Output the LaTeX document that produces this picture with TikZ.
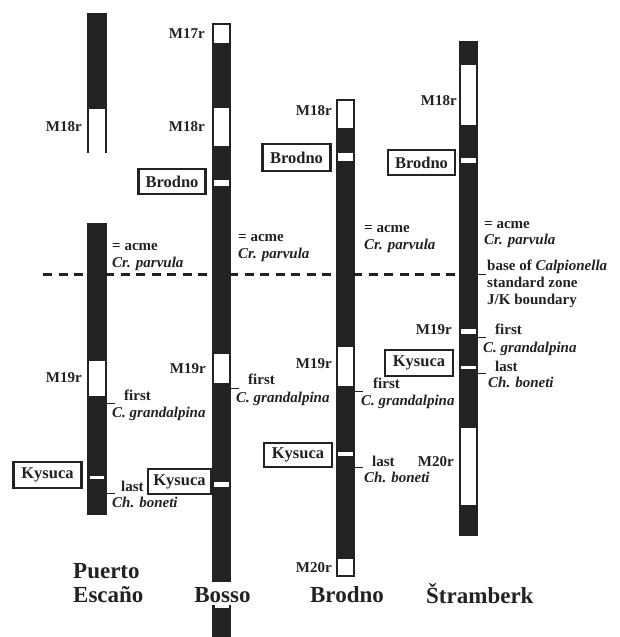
\documentclass[tikz,border=0pt]{standalone}
\usepackage{fontspec}
\setmainfont{Liberation Serif}
\definecolor{ink}{HTML}{222222}
\begin{document}
\begin{tikzpicture}[x=1pt,y=-1pt,
  lab/.style={font=\fontsize{15}{17}\selectfont\bfseries, inner sep=0pt, text=ink},
  labi/.style={font=\fontsize{15}{17}\selectfont\bfseries\itshape, inner sep=0pt, text=ink},
  bx/.style={draw=ink, line width=2.2pt, font=\fontsize{16.5}{18}\selectfont\bfseries, inner sep=0pt, minimum width=68pt, minimum height=26pt, text=ink, fill=white},
  sitename/.style={font=\fontsize{23}{25}\selectfont\bfseries, inner sep=0pt, text=ink},
  colfill/.style={fill=ink},
  wfill/.style={fill=white},
  tick/.style={draw=ink, line width=1pt},
  jk/.style={draw=ink, line width=3pt, dash pattern=on 9pt off 6.5pt}]
\useasboundingbox (0,0) rectangle (620,637);
% dashed J/K line
\coordinate (jkL) at (43,274);
\coordinate (jkR) at (459,274);
\draw[jk] (jkL) -- (jkR);
% ---------------- Puerto Escano column
\fill[colfill] (87,13) rectangle (107,109);
\fill[colfill] (87,109) rectangle (89,153);
\fill[colfill] (105,109) rectangle (107,153);
\fill[colfill] (87,223) rectangle (107,515);
\fill[wfill] (89,361) rectangle (105,396);
\fill[wfill] (90,476) rectangle (104,479);
% ---------------- Bosso column
\fill[colfill] (212,23) rectangle (231,582);
\fill[colfill] (212,605) rectangle (231,637);
\fill[wfill] (214.5,604.5) rectangle (228.5,608);
\fill[wfill] (214,25) rectangle (229,43);
\fill[wfill] (214,108) rectangle (229,146);
\fill[wfill] (214,180) rectangle (229,186);
\fill[wfill] (214,354) rectangle (229,383);
\fill[wfill] (214,482) rectangle (229,487);
% ---------------- Brodno column
\fill[colfill] (336,99) rectangle (355,577);
\fill[wfill] (338,101) rectangle (353,128);
\fill[wfill] (338,153) rectangle (353,161);
\fill[wfill] (338,347) rectangle (353,386);
\fill[wfill] (338,452) rectangle (353,456);
\fill[wfill] (338,559) rectangle (353,575);
% ---------------- Stramberk column
\fill[colfill] (459,41) rectangle (478,536);
\fill[wfill] (461,65) rectangle (476,125);
\fill[wfill] (461,158) rectangle (476,163);
\fill[wfill] (461,329) rectangle (476,334);
\fill[wfill] (461,366) rectangle (476,369);
\fill[wfill] (461,428) rectangle (476,505);
% ---------------- Puerto Escano labels
\node[lab, anchor=base east] (pe18) at (82,131) {M18r};
\node[lab, anchor=base west] (peacme) at (112,250) {= acme};
\node[labi, anchor=base west] (pecr) at (112,267) {Cr. parvula};
\node[lab, anchor=base east] (pe19) at (82,382) {M19r};
\node[lab, anchor=base west] (pefirst) at (124,400) {first};
\node[labi, anchor=base west] (pecg) at (112,417) {C. grandalpina};
\coordinate (pet1) at (107,403);
\draw[tick] (pet1) -- ++(8,0);
\node[lab, anchor=base west] (pelast) at (121,491) {last};
\node[labi, anchor=base west] (pech) at (112,507) {Ch. boneti};
\coordinate (pet2) at (107,493);
\draw[tick] (pet2) -- ++(8,0);
\node[bx] (pekys) at (47.5,475) {Kysuca};
% ---------------- Bosso labels
\node[lab, anchor=base east] (bo17) at (205,38) {M17r};
\node[lab, anchor=base east] (bo18) at (205,131) {M18r};
\node[bx, minimum width=67pt, minimum height=25pt] (bobro) at (172,181.5) {Brodno};
\node[lab, anchor=base west] (boacme) at (238,241) {= acme};
\node[labi, anchor=base west] (bocr) at (238,258) {Cr. parvula};
\node[lab, anchor=base east] (bo19) at (206,373) {M19r};
\node[lab, anchor=base west] (bofirst) at (248,384) {first};
\node[labi, anchor=base west] (bocg) at (236,402) {C. grandalpina};
\coordinate (bot1) at (231,388);
\draw[tick] (bot1) -- ++(8,0);
\node[bx, minimum width=63pt, minimum height=25pt] (bokys) at (179.5,481.5) {Kysuca};
% ---------------- Brodno labels
\node[lab, anchor=base east] (br18) at (332,115) {M18r};
\node[bx, minimum height=27pt] (brbro) at (296.5,157.5) {Brodno};
\node[lab, anchor=base west] (bracme) at (364,232) {= acme};
\node[labi, anchor=base west] (brcr) at (364,249) {Cr. parvula};
\node[lab, anchor=base east] (br19) at (332,368) {M19r};
\node[lab, anchor=base west] (brfirst) at (373,388) {first};
\node[labi, anchor=base west] (brcg) at (361,405) {C. grandalpina};
\coordinate (brt1) at (355,391);
\draw[tick] (brt1) -- ++(8,0);
\node[bx, minimum height=24pt] (brkys) at (298,455) {Kysuca};
\node[lab, anchor=base west] (brlast) at (372,466) {last};
\node[labi, anchor=base west] (brch) at (364,482) {Ch. boneti};
\coordinate (brt2) at (355,467);
\draw[tick] (brt2) -- ++(8,0);
\node[lab, anchor=base east] (br20) at (332,572) {M20r};
% ---------------- Stramberk labels
\node[lab, anchor=base east] (st18) at (457,105) {M18r};
\node[bx, minimum width=67pt, minimum height=25pt] (stbro) at (421.5,162.5) {Brodno};
\node[lab, anchor=base west] (stacme) at (484,228) {= acme};
\node[labi, anchor=base west] (stcr) at (484,244) {Cr. parvula};
\node[lab, anchor=base west] (stbase) at (487,270) {base of \textit{Calpionella}};
\node[lab, anchor=base west] (ststd) at (487,287) {standard zone};
\node[lab, anchor=base west] (stjk) at (487,304) {J/K boundary};
\coordinate (stt0) at (478,274);
\draw[tick] (stt0) -- ++(8,0);
\node[lab, anchor=base east] (st19) at (452,334) {M19r};
\node[lab, anchor=base west] (stfirst) at (495,334) {first};
\node[labi, anchor=base west] (stcg) at (483,352) {C. grandalpina};
\coordinate (stt1) at (478,337);
\draw[tick] (stt1) -- ++(8,0);
\node[bx] (stkys) at (419,363) {Kysuca};
\node[lab, anchor=base west] (stlast) at (495,371) {last};
\node[labi, anchor=base west] (stch) at (488,387) {Ch. boneti};
\coordinate (stt2) at (478,373);
\draw[tick] (stt2) -- ++(8,0);
\node[lab, anchor=base east] (st20) at (454,466) {M20r};
% ---------------- site names
\node[sitename, anchor=base west] (n1a) at (73,578) {Puerto};
\node[sitename, anchor=base west] (n1b) at (73,602) {Escaño};
\node[sitename, anchor=base] (n2) at (222.5,602) {Bosso};
\node[sitename, anchor=base] (n3) at (347,602) {Brodno};
\node[sitename, anchor=base west] (n4) at (426,603) {Štramberk};
\end{tikzpicture}
\end{document}
